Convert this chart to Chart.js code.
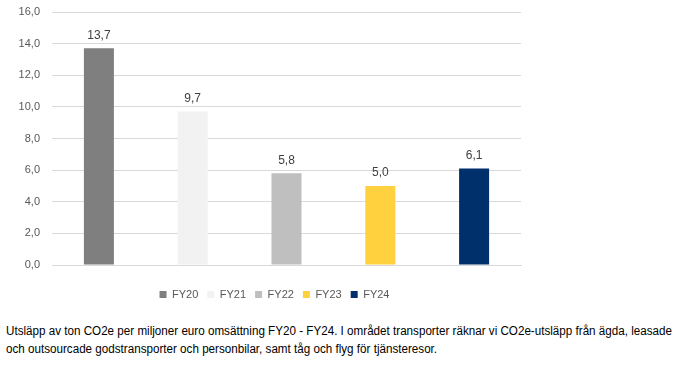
<!DOCTYPE html>
<html><head><meta charset="utf-8">
<script src="https://cdn.jsdelivr.net/npm/chart.js@4"></script>
<style>
html,body{margin:0;padding:0;background:#fff;width:676px;height:367px;overflow:hidden;}
#wrap{position:absolute;left:0;top:0;width:676px;height:310px;}
#caption{position:absolute;left:6px;top:322px;font-family:"Liberation Sans",sans-serif;font-size:12.5px;line-height:18px;color:#000;white-space:nowrap;transform-origin:0 0;}
#caption span{display:inline-block;}
</style></head>
<body>
<div id="wrap"><canvas id="c" width="676" height="310"></canvas></div>
<div id="caption"><span id="l1">Utsläpp av ton CO2e per miljoner euro omsättning FY20 - FY24. I området transporter räknar vi CO2e-utsläpp från ägda, leasade</span><br><span>och outsourcade godstransporter och personbilar, samt tåg och flyg för tjänsteresor.</span></div>
<script>
const categories = ['FY20', 'FY21', 'FY22', 'FY23', 'FY24'];
const values = [13.7, 9.7, 5.8, 5.0, 6.1];
const barColors = ['#7f7f7f', '#f2f2f2', '#bfbfbf', '#ffd13f', '#00306b'];
const yMin = 0, yMax = 16, yStep = 2;

const fmt = v => v.toFixed(1).replace('.', ',');

// fit caption first line to the reference width
(function(){
  const l1 = document.getElementById('l1');
  const w = l1.getBoundingClientRect().width;
  const k = 666 / w;
  document.getElementById('caption').style.transform = 'scaleX(' + k + ')';
})();

const valueLabels = {
  id: 'valueLabels',
  afterDatasetsDraw(chart) {
    const ctx = chart.ctx;
    const meta = chart.getDatasetMeta(0);
    ctx.save();
    ctx.font = '12px "Liberation Sans", sans-serif';
    ctx.fillStyle = '#404040';
    ctx.textAlign = 'center';
    ctx.textBaseline = 'bottom';
    meta.data.forEach((bar, i) => {
      ctx.fillText(fmt(values[i]), bar.x, bar.y - 7);
    });
    ctx.restore();
  }
};

new Chart(document.getElementById('c'), {
  type: 'bar',
  data: {
    labels: categories,
    datasets: [{
      data: values,
      backgroundColor: barColors,
      barPercentage: 0.32,
      categoryPercentage: 1.0
    }]
  },
  options: {
    responsive: false,
    animation: false,
    layout: { padding: { top: 12, left: 0, right: 127, bottom: 0 } },
    plugins: {
      tooltip: { enabled: false },
      legend: {
        position: 'bottom',
        labels: {
          boxWidth: 7, boxHeight: 7, padding: 9,
          color: '#595959',
          font: { size: 11, family: '"Liberation Sans", sans-serif' },
          generateLabels: () => categories.map((c, i) => ({
            text: c, fillStyle: barColors[i], strokeStyle: barColors[i], lineWidth: 0, fontColor: '#595959', index: i
          }))
        }
      }
    },
    scales: {
      x: {
        type: 'category',
        grid: { display: false },
        border: { display: true, color: '#d9d9d9' },
        ticks: { display: false },
        afterFit(s) { s.height = 15; s.paddingLeft = 0; s.paddingRight = 0; }
      },
      y: {
        min: yMin, max: yMax,
        grid: { color: '#d9d9d9', drawTicks: false },
        border: { display: false },
        ticks: {
          stepSize: yStep, padding: 12, color: '#595959',
          font: { size: 11, family: '"Liberation Sans", sans-serif' },
          callback: v => fmt(v)
        },
        afterFit(s) { s.width = 52; s.paddingTop = 0; s.paddingBottom = 0; }
      },
      y2: {
        position: 'right',
        grid: { display: false },
        border: { display: false },
        ticks: { display: false },
        afterFit(s) { s.width = 28; s.paddingTop = 0; s.paddingBottom = 0; }
      }
    }
  },
  plugins: [valueLabels]
});
</script>
</body></html>
